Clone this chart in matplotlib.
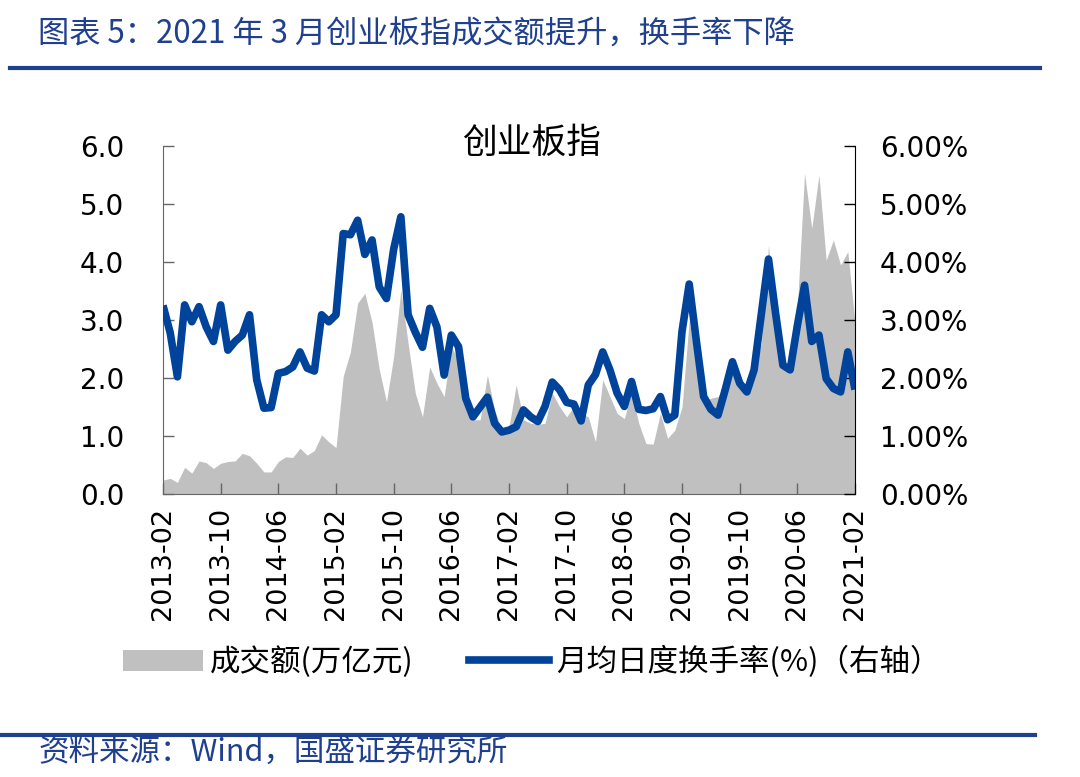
import matplotlib.pyplot as plt
from matplotlib.lines import Line2D
from matplotlib.patches import Patch
import matplotlib.ticker as mticker
import numpy as np

plt.rcParams['font.family'] = ['DejaVu Sans', 'Noto Sans CJK SC']

# 月度数据 2013-02 ~ 2021-02
tick_labels = ["2013-02", "2013-10", "2014-06", "2015-02", "2015-10", "2016-06", "2017-02",
               "2017-10", "2018-06", "2019-02", "2019-10", "2020-06", "2021-02"]

# 成交额(万亿元)
amount = [0.24, 0.27, 0.20, 0.46, 0.36, 0.57, 0.54, 0.44, 0.53, 0.56, 0.57, 0.70, 0.66, 0.53, 0.38, 0.38,
          0.56, 0.64, 0.63, 0.79, 0.67, 0.75, 1.02, 0.90, 0.80, 2.03, 2.45, 3.29, 3.46, 2.96, 2.15, 1.59,
          2.37, 3.52, 2.60, 1.74, 1.33, 2.19, 1.91, 1.68, 2.54, 2.30, 1.65, 1.28, 1.28, 2.05, 1.45, 1.10,
          1.16, 1.88, 1.28, 1.22, 1.20, 1.22, 1.74, 1.51, 1.33, 1.51, 1.39, 1.33, 0.90, 1.97, 1.68, 1.39,
          1.30, 1.75, 1.22, 0.87, 0.86, 1.39, 0.96, 1.10, 1.50, 3.00, 2.20, 1.60, 1.65, 1.68, 1.87, 2.08,
          1.87, 1.75, 2.10, 2.60, 4.29, 2.90, 2.20, 2.10, 3.20, 5.53, 4.58, 5.50, 4.03, 4.38, 3.95, 4.18,
          2.95]

# 月均日度换手率(%)
turnover = [3.25, 2.78, 2.02, 3.26, 2.97, 3.23, 2.88, 2.63, 3.26, 2.48, 2.63, 2.74, 3.09, 1.97, 1.48, 1.49,
            2.08, 2.11, 2.19, 2.45, 2.17, 2.12, 3.09, 2.97, 3.09, 4.49, 4.47, 4.72, 4.13, 4.38, 3.57, 3.37,
            4.22, 4.78, 3.09, 2.79, 2.53, 3.20, 2.88, 2.05, 2.74, 2.54, 1.65, 1.33, 1.50, 1.67, 1.22, 1.07,
            1.10, 1.16, 1.45, 1.33, 1.25, 1.51, 1.93, 1.80, 1.58, 1.55, 1.26, 1.88, 2.06, 2.45, 2.14, 1.74,
            1.51, 1.94, 1.46, 1.44, 1.47, 1.68, 1.28, 1.36, 2.80, 3.62, 2.63, 1.68, 1.46, 1.36, 1.80, 2.28,
            1.91, 1.76, 2.14, 3.10, 4.05, 3.10, 2.22, 2.14, 2.90, 3.60, 2.63, 2.74, 1.99, 1.82, 1.76, 2.45,
            1.80]

grey = '#C0C0C0'
blue = '#00439A'
navy = '#1F3F8F'
cjk = ['Noto Sans CJK SC', 'DejaVu Sans']

x = np.arange(len(amount))

fig = plt.figure(figsize=(10.8, 7.77), dpi=100)
ax = fig.add_axes([163 / 1080, 1 - 494 / 777, 692 / 1080, 348 / 777])
ax.fill_between(x, amount, 0, color=grey, lw=0)
ax.set_xlim(0, len(amount) - 1)
ax.set_ylim(0, 6)
ax.set_yticks(np.arange(0, 7, 1))
ax.yaxis.set_major_formatter(mticker.FormatStrFormatter('%.1f'))
ax.set_xticks(np.arange(0, len(amount), 8))
ax.set_xticklabels(tick_labels, rotation=90)
ax.tick_params(axis='y', direction='in', length=8, width=1, colors='#666666', labelcolor='black',
               labelsize=20, pad=28)
ax.tick_params(axis='x', direction='in', length=8, width=1, colors='#666666', labelcolor='black',
               labelsize=19.5, pad=9)
ax.spines['top'].set_visible(False)
ax.spines['right'].set_visible(False)
for s in ['left', 'bottom']:
    ax.spines[s].set_color('#666666')

ax2 = ax.twinx()
ax2.plot(x, turnover, color=blue, lw=5.5, solid_joinstyle='round', solid_capstyle='butt')
ax2.set_ylim(0, 6)
ax2.set_yticks(np.arange(0, 7, 1))
ax2.yaxis.set_major_formatter(mticker.FuncFormatter(lambda v, p: f"{v:.2f}%"))
ax2.tick_params(axis='y', direction='in', length=8, width=1, colors='black', labelsize=20, pad=18)
ax2.spines['top'].set_visible(False)
ax2.spines['left'].set_visible(False)
ax2.spines['bottom'].set_visible(False)
ax2.spines['right'].set_color('black')

fig.text(532 / 1080, 1 - 143 / 777, "创业板指", family=cjk, fontsize=25, ha='center', va='center')

handles = [Patch(facecolor=grey, edgecolor='none'), Line2D([], [], color=blue, lw=5.5)]
fig.legend(handles, ["成交额(万亿元)", "月均日度换手率(%)（右轴）"], loc='center',
           bbox_to_anchor=(532 / 1080, 1 - 662 / 777), ncol=2, frameon=False,
           prop={'family': cjk, 'size': 22}, handlelength=2.6, handleheight=0.7,
           columnspacing=1.8, handletextpad=0.25)

# 标题与页脚
fig.text(38 / 1080, 1 - 35 / 777, "图表 5：2021 年 3 月创业板指成交额提升，换手率下降",
         family=cjk, fontsize=22.5, color=navy, ha='left', va='center', fontweight='medium')
fig.add_artist(Line2D([10 / 1080, 1040 / 1080], [1 - 68 / 777] * 2, color=navy, lw=3))
fig.add_artist(Line2D([0, 1035 / 1080], [1 - 735 / 777] * 2, color=navy, lw=3))
fig.text(38 / 1080, 1 - 752 / 777, "资料来源：Wind，国盛证券研究所",
         family=cjk, fontsize=22, color=navy, ha='left', va='center', fontweight='medium')

fig.savefig('out.png', dpi=100, facecolor='white')
